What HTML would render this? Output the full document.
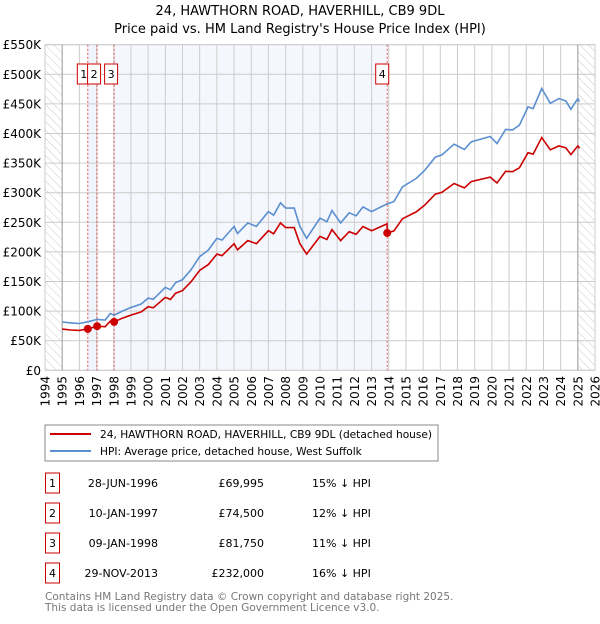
<!DOCTYPE html>
<html><head><meta charset="utf-8"><style>
body{margin:0;background:#fff;width:600px;height:620px;overflow:hidden;font-family:"DejaVu Sans","Liberation Sans",sans-serif}
svg text{font-family:"DejaVu Sans","Liberation Sans",sans-serif}
</style></head><body>
<svg id="chart" width="600" height="620" xmlns="http://www.w3.org/2000/svg">
<defs><pattern id="hatch" width="6" height="6" patternUnits="userSpaceOnUse" patternTransform="rotate(-45)"><line x1="0" y1="0" x2="0" y2="6" stroke="#ccc" stroke-width="1"/></pattern></defs>
<text x="300" y="15" text-anchor="middle" font-size="13" fill="#000">24, HAWTHORN ROAD, HAVERHILL, CB9 9DL</text>
<text x="300" y="33" text-anchor="middle" font-size="13" fill="#000">Price paid vs. HM Land Registry's House Price Index (HPI)</text>
<g id="plot"></g>
<rect x="45" y="425" width="393" height="36" fill="#fff" stroke="#888"/>
<line x1="50" y1="434" x2="91" y2="434" stroke="#cc0000" stroke-width="2"/>
<text x="100" y="438" font-size="10.6">24, HAWTHORN ROAD, HAVERHILL, CB9 9DL (detached house)</text>
<line x1="50" y1="451" x2="91" y2="451" stroke="#5b8fd0" stroke-width="2"/>
<text x="100" y="455" font-size="10.6">HPI: Average price, detached house, West Suffolk</text>
<g id="table" font-size="11"></g>
<text x="45" y="600" font-size="10.5" fill="#777">Contains HM Land Registry data © Crown copyright and database right 2025.</text>
<text x="45" y="611" font-size="10.5" fill="#777">This data is licensed under the Open Government Licence v3.0.</text>
</svg>
<script>
const hpiDates=[1995.0,1995.5,1996.0,1996.49,1997.03,1997.5,1997.8,1998.02,1998.5,1999.0,1999.6,2000.0,2000.3,2001.0,2001.3,2001.6,2002.0,2002.5,2003.0,2003.5,2004.0,2004.3,2005.0,2005.2,2005.8,2006.3,2007.0,2007.3,2007.7,2008.0,2008.5,2008.83,2009.22,2010.0,2010.4,2010.7,2011.2,2011.7,2012.1,2012.5,2013.0,2013.9,2013.91,2014.3,2014.8,2015.6,2016.1,2016.7,2017.1,2017.8,2018.4,2018.8,2019.9,2020.3,2020.8,2021.2,2021.6,2022.1,2022.4,2022.9,2023.4,2023.9,2024.3,2024.6,2025.0,2025.1];
const hpiValues=[81.6,80,79,82,86,85,96,93,100,106,112,122,120,140,136,148,153,170,192,203,223,220,243,231,249,243,268,262,283,274,274,243,223,257,251,270,249,266,261,276,268,281,281,285,310,324,338,360,364,382,373,386,395,383,407,406,414,445,442,476,451,459,455,441,459,454];
const propValues=[69.6,68,67.4,70.0,74.5,73.6,83.1,81.75,88,93.3,98.6,107.4,105.6,123.2,119.7,130.2,134.6,149.6,169,178.6,196.2,193.6,213.8,203.3,219.1,213.8,235.8,230.6,249,241.1,241.1,213.8,196.2,226.2,220.9,237.6,219.1,234.1,229.7,242.9,235.8,247.3,232,235.4,256,267.6,279.2,297.4,300.7,315.5,308.1,318.8,326.3,316.4,336.2,335.4,342,367.6,365.1,393.2,372.5,379.1,375.8,364.3,379.1,375];
const saleLabels=["1","2","3","4"];
const saleDates=[1996.49,1997.03,1998.02,2013.91];
const salePrices=[69.995,74.5,81.75,232];
const saleDateText=["28-JUN-1996","10-JAN-1997","09-JAN-1998","29-NOV-2013"];
const salePriceText=["£69,995","£74,500","£81,750","£232,000"];
const saleHpiText=["15% ↓ HPI","12% ↓ HPI","11% ↓ HPI","16% ↓ HPI"];
const yTicks=[0,50,100,150,200,250,300,350,400,450,500,550];
const yTickLabels=["£0","£50K","£100K","£150K","£200K","£250K","£300K","£350K","£400K","£450K","£500K","£550K"];
const xYears=[1994,1995,1996,1997,1998,1999,2000,2001,2002,2003,2004,2005,2006,2007,2008,2009,2010,2011,2012,2013,2014,2015,2016,2017,2018,2019,2020,2021,2022,2023,2024,2025,2026];

const NS="http://www.w3.org/2000/svg";
const X0=45,X1=595,Y0=370.3,Y1=44.7;
const xs=y=>X0+(y-1994)/32*(X1-X0);
const ys=v=>Y0-v/550*(Y0-Y1);
const plot=document.getElementById('plot');
function mk(tag,attrs,parent){const e=document.createElementNS(NS,tag);for(const k in attrs)e.setAttribute(k,attrs[k]);(parent||plot).appendChild(e);return e;}
let e;
e=mk('rect',{x:X0,y:Y1,width:X1-X0,height:Y0-Y1,fill:'#fff',stroke:'#ccc'});


e=mk('rect',{x:xs(saleDates[0]),y:Y1,width:xs(saleDates[1])-xs(saleDates[0]),height:Y0-Y1,fill:'#f0f4fc'});


e=mk('rect',{x:xs(saleDates[2]),y:Y1,width:xs(saleDates[3])-xs(saleDates[2]),height:Y0-Y1,fill:'#f4f7fd'});


e=mk('rect',{x:xs(1994),y:Y1,width:xs(1995)-xs(1994),height:Y0-Y1,fill:'url(#hatch)'});


e=mk('rect',{x:xs(2025),y:Y1,width:xs(2026)-xs(2025),height:Y0-Y1,fill:'url(#hatch)'});


yTicks.forEach((v,i)=>{
 e=mk('line',{x1:X0,x2:X1,y1:ys(v),y2:ys(v),stroke:'#ccc'});
 
 
 e=mk('text',{x:41,y:ys(v)+4.5,'text-anchor':'end','font-size':12,fill:'#000'});
 e.textContent=yTickLabels[i];
 
 
});
xYears.forEach(yr=>{
 e=mk('line',{x1:xs(yr),x2:xs(yr),y1:Y1,y2:Y0,stroke:(yr==1995||yr==2025)?'#999':'#ccc'});
 
 
 e=mk('text',{x:0,y:0,'text-anchor':'end','font-size':12,transform:`translate(${xs(yr)+4.5},376) rotate(-90)`});
 e.textContent=yr;
 
 
});
saleDates.forEach((d,i)=>{
 e=mk('line',{x1:xs(d),x2:xs(d),y1:Y1,y2:Y0,stroke:'#e05555','stroke-dasharray':'2,2','stroke-width':1});
 
 
});
const pts=(vals)=>hpiDates.map((d,i)=>xs(d).toFixed(1)+','+ys(vals[i]).toFixed(1)).join(' ');
e=mk('polyline',{points:pts(hpiValues),fill:'none',stroke:'#5b8fd0','stroke-width':1.6});


e=mk('polyline',{points:pts(propValues),fill:'none',stroke:'#cc0000','stroke-width':1.6});


const boxOff=[-4,-3,-3,-5];
saleDates.forEach((d,i)=>{
 e=mk('circle',{cx:xs(d),cy:ys(salePrices[i]),r:4,fill:'#cc0000'});
 
 
 const cx=xs(d)+boxOff[i];
 e=mk('rect',{x:cx-6.5,y:64,width:13,height:20,fill:'#fff',stroke:'#cc0000'});
 
 
 e=mk('text',{x:cx,y:78,'text-anchor':'middle','font-size':11});
 e.textContent=saleLabels[i];
 
 
});
const tbl=document.getElementById('table');
const rowY=[483,513,543,573];
saleLabels.forEach((l,i)=>{
 const y=rowY[i];
 e=mk('rect',{x:45.5,y:y-10,width:14,height:20,fill:'#fff',stroke:'#cc0000'},tbl);
 
 
 e=mk('text',{x:52.5,y:y+4,'text-anchor':'middle'},tbl);e.textContent=l;
 
 
 e=mk('text',{x:158,y:y+4,'text-anchor':'end'},tbl);e.textContent=saleDateText[i];
 
 
 e=mk('text',{x:264,y:y+4,'text-anchor':'end'},tbl);e.textContent=salePriceText[i];
 
 
 e=mk('text',{x:312,y:y+4},tbl);e.textContent=saleHpiText[i];
 
 
});
</script>
</body></html>
